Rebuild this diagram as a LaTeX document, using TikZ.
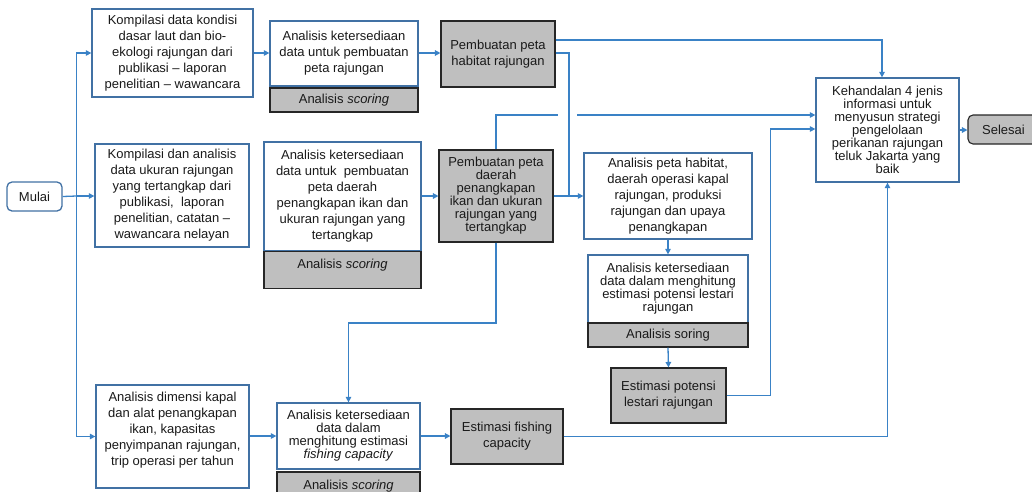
\documentclass[tikz,border=0pt]{standalone}
\usepackage{fontspec}
\setmainfont{Liberation Sans}
\usetikzlibrary{arrows.meta,calc}
\definecolor{cblue}{RGB}{58,130,198}
\definecolor{bord}{RGB}{65,113,164}
\definecolor{gfill}{RGB}{191,191,191}
\definecolor{gbord}{RGB}{38,38,38}
\definecolor{txt}{RGB}{26,26,26}
\begin{document}
\begin{tikzpicture}[x=1pt,y=-1pt,
  base/.style={inner sep=0pt, align=center, text=txt, font=\fontsize{13}{16}\selectfont},
  wbox/.style={base, draw=bord, line width=1.3pt, fill=white},
  gbox/.style={base, draw=gbord, line width=1.1pt, fill=gfill},
  tight/.style={font=\fontsize{13}{13}\selectfont},
  cl/.style={draw=cblue, line width=1.3pt},
  arr/.style={cl, -{Triangle[length=5.5pt,width=5.5pt]}}]
\useasboundingbox (0,0) rectangle (1032,491);

% nodes
\node[wbox, draw=bord, rounded corners=5pt, minimum width=55, minimum height=29] (mulai) at (34.5,196.5) {Mulai};
\node[wbox, minimum width=161, minimum height=88] (b1) at (172.5,53) {Kompilasi data kondisi\\dasar laut dan bio-\\ekologi rajungan dari\\publikasi -- laporan\\penelitian -- wawancara};
\node[wbox, minimum width=148, minimum height=65] (kt1) at (344,53.5) {Analisis ketersediaan\\data untuk pembuatan\\peta rajungan};
\node[gbox, minimum width=148, minimum height=24] (kt1s) at (344,100) {Analisis \textit{scoring}};
\node[gbox, minimum width=114, minimum height=66] (hab) at (498,54) {Pembuatan peta\\habitat rajungan};

\node[wbox, minimum width=154, minimum height=103] (b2) at (172,195.5) {Kompilasi dan analisis\\data ukuran rajungan\\yang tertangkap dari\\publikasi,\ \ laporan\\penelitian, catatan --\\wawancara nelayan};
\node[wbox, minimum width=157, minimum height=109] (kt2) at (342.5,196.5) {Analisis ketersediaan\\data untuk\ \ pembuatan\\peta daerah\\penangkapan ikan dan\\ukuran rajungan yang\\tertangkap};
\node[gbox, minimum width=157, text height=17pt, text depth=20pt, anchor=north] (kt2s) at (342.5,251) {Analisis \textit{scoring}};
\node[gbox, tight, minimum width=114, minimum height=92] (pd) at (496,196) {Pembuatan peta\\daerah\\penangkapan\\ikan dan ukuran\\rajungan yang\\tertangkap};
\node[wbox, minimum width=168, minimum height=86] (ph) at (668,196) {Analisis peta habitat,\\daerah operasi kapal\\rajungan, produksi\\rajungan dan upaya\\penangkapan};
\node[wbox, tight, minimum width=160, minimum height=68] (pl) at (668,289) {Analisis ketersediaan\\data dalam menghitung\\estimasi potensi lestari\\rajungan};
\node[gbox, minimum width=160, minimum height=24] (pls) at (668,335) {Analisis soring};
\node[gbox, minimum width=115, minimum height=55] (ep) at (668.5,395.5) {Estimasi potensi\\lestari rajungan};

\node[wbox, tight, minimum width=143, minimum height=104] (keh) at (887.5,130) {Kehandalan 4 jenis\\informasi untuk\\menyusun strategi\\pengelolaan\\perikanan rajungan\\teluk Jakarta yang\\baik};
\node[gbox, rounded corners=5pt, minimum width=71, minimum height=29] (selesai) at (1003.5,129.5) {Selesai};

\node[wbox, minimum width=153, minimum height=103] (dim) at (172.5,436.5) {Analisis dimensi kapal\\dan alat penangkapan\\ikan, kapasitas\\penyimpanan rajungan,\\trip operasi per tahun\\\mbox{}};
\node[wbox, tight, minimum width=143, minimum height=66] (fc) at (348.5,436) {Analisis ketersediaan\\data dalam\\menghitung estimasi\\\textit{fishing capacity}};
\node[gbox, minimum width=143, minimum height=28] (fcs) at (348.5,486) {Analisis \textit{scoring}};
\node[gbox, minimum width=112, minimum height=55] (efc) at (507,436.5) {Estimasi fishing\\capacity};

% connectors
\coordinate (jx) at (76.5,196);
\draw[cl] (mulai.east) -- (jx);
\draw[arr] (jx) -- (b2.west |- jx);
\draw[arr] (jx) |- (b1.west);
\draw[arr] (jx) |- (dim.west);
\draw[arr] (b1.east) -- (kt1.west |- b1.east);
\draw[arr] (kt1.east |- b1.east) -- (hab.west |- b1.east);
\draw[arr] ([yshift=14pt]hab.east) -| ([xshift=-5.5pt]keh.north);
\coordinate (m1) at (569,196);
\draw[cl] ([yshift=1pt]hab.east) -| (m1);
\draw[arr] (kt2.east |- pd.west) -- (pd.west);
\draw[arr] (pd.east) -- (ph.west);
\coordinate (g1) at (558,115);
\coordinate (g2) at (577,115);
\draw[cl] (pd.north) |- (g1);
\draw[arr] (g2) -- (keh.west |- g2);
\coordinate (d1) at (496,323);
\coordinate (d2) at (348.5,323);
\draw[arr] (pd.south) -- (d1) -- (d2) -- (fc.north);
\draw[arr] (ph.south) -- (pl.north);
\draw[arr] (pls.south) -- (ep.north);
\coordinate (r1) at (770.5,129);
\draw[arr] (ep.east) -| (r1) -- (keh.west |- r1);
\draw[arr] (dim.east |- fc.west) -- (fc.west);
\draw[arr] (fc.east) -- (efc.west |- fc.east);
\draw[arr] (efc.east) -| (keh.south);
\draw[arr] (keh.east) -- (selesai.west |- keh.east);
\end{tikzpicture}
\end{document}
